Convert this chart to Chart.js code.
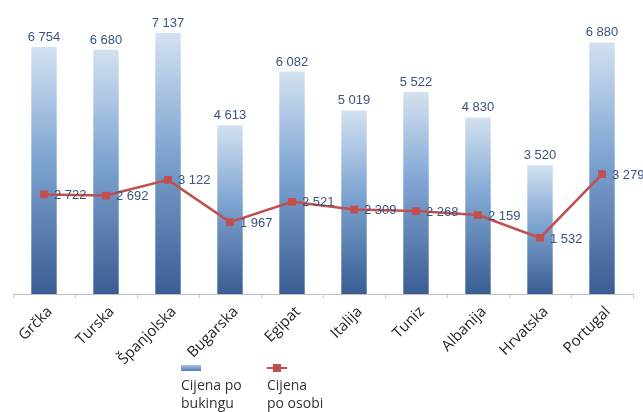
<!DOCTYPE html>
<html>
<head>
<meta charset="utf-8">
<script src="https://cdn.jsdelivr.net/npm/chart.js@4.4.1/dist/chart.umd.min.js"></script>
<style>
    body { margin: 0; background: #fff; }
    #wrap { position: relative; width: 643px; height: 412px; }
    #legenda { position: absolute; top: 362px; left: 0; width: 643px; height: 50px; font-family: "Open Sans", sans-serif; font-size: 14px; color: #333; }
    .stavka { position: absolute; top: 0; line-height: 18px; }
    .simbol { height: 10px; position: relative; margin-bottom: 4px; }
</style>
</head>
<body>
<div id="wrap">
    <canvas id="grafikon" width="643" height="412"></canvas>
    <div id="legenda">
        <div class="stavka" style="left:181px">
            <div class="simbol"><div style="position:absolute;left:0;top:3px;width:20px;height:6px;background:linear-gradient(#a9c3e3,#4f7cb5)"></div></div>
            Cijena po<br>bukingu
        </div>
        <div class="stavka" style="left:267px">
            <div class="simbol">
                <div style="position:absolute;left:0;top:5px;width:20px;height:2px;background:#c0504d"></div>
                <div style="position:absolute;left:6px;top:2px;width:8px;height:8px;background:#c0504d"></div>
            </div>
            Cijena<br>po osobi
        </div>
    </div>
</div>
<script>
const drzave = ["Grčka", "Turska", "Španjolska", "Bugarska", "Egipat", "Italija", "Tuniz", "Albanija", "Hrvatska", "Portugal"];
const cijenaPoBukingu = [6754, 6680, 7137, 4613, 6082, 5019, 5522, 4830, 3520, 6880];
const cijenaPoOsobi = [2722, 2692, 3122, 1967, 2521, 2309, 2268, 2159, 1532, 3279];

function formatBroj(v) {
    return String(v).replace(/\B(?=(\d{3})+(?!\d))/g, " ");
}

// gradijent za svaki stupac posebno, od vrha stupca do osi
function gradijentStupca(context) {
    const chart = context.chart;
    const y = chart.scales.y;
    if (!chart.chartArea || !y) return "#6f96c8";
    const vrh = y.getPixelForValue(context.raw);
    const dno = y.getPixelForValue(0);
    const g = chart.ctx.createLinearGradient(0, vrh, 0, dno);
    g.addColorStop(0, "#d3e1f1");
    g.addColorStop(0.45, "#7fa5d2");
    g.addColorStop(1, "#3a5d93");
    return g;
}

const oznakePlugin = {
    id: "oznake",
    afterDatasetsDraw(chart) {
        const ctx = chart.ctx;
        ctx.save();
        ctx.font = "13px 'Liberation Sans', Arial, sans-serif";
        ctx.fillStyle = "#3b5478";

        const stupci = chart.getDatasetMeta(0).data;
        ctx.textAlign = "center";
        ctx.textBaseline = "alphabetic";
        stupci.forEach((el, i) => {
            ctx.fillText(formatBroj(cijenaPoBukingu[i]), el.x, el.y - 6);
        });

        const tocke = chart.getDatasetMeta(1).data;
        ctx.textAlign = "left";
        ctx.textBaseline = "middle";
        tocke.forEach((el, i) => {
            ctx.fillText(formatBroj(cijenaPoOsobi[i]), el.x + 10, el.y + 1);
        });
        ctx.restore();
    }
};

const ctx = document.getElementById("grafikon").getContext("2d");
new Chart(ctx, {
    data: {
        labels: drzave,
        datasets: [{
            type: "bar",
            label: "Cijena po bukingu",
            data: cijenaPoBukingu,
            backgroundColor: gradijentStupca,
            borderWidth: 0,
            categoryPercentage: 1,
            barPercentage: 0.41,
            order: 1
        }, {
            type: "line",
            label: "Cijena po osobi",
            data: cijenaPoOsobi,
            borderColor: "#c0504d",
            backgroundColor: "#c0504d",
            borderWidth: 2.5,
            pointStyle: "rect",
            pointRadius: 5.5,
            pointBorderWidth: 0,
            tension: 0,
            order: 0
        }]
    },
    options: {
        responsive: false,
        animation: false,
        layout: { padding: { left: 13, right: 10, top: 0, bottom: 0 } },
        plugins: {
            legend: { display: false },
            tooltip: { enabled: false }
        },
        scales: {
            x: {
                offset: true,
                grid: {
                    offset: true,
                    drawOnChartArea: false,
                    drawTicks: true,
                    tickLength: 4,
                    color: "#c8c8c8"
                },
                border: { color: "#bfbfbf", width: 1 },
                ticks: {
                    minRotation: 45,
                    maxRotation: 45,
                    padding: 5,
                    labelOffset: 6,
                    color: "#222",
                    font: { family: "'Open Sans', sans-serif", size: 15 }
                },
                afterFit(scale) { scale.height = 118; }
            },
            y: {
                display: false,
                min: 0,
                max: 7890
            }
        }
    },
    plugins: [oznakePlugin]
});
</script>
</body>
</html>
